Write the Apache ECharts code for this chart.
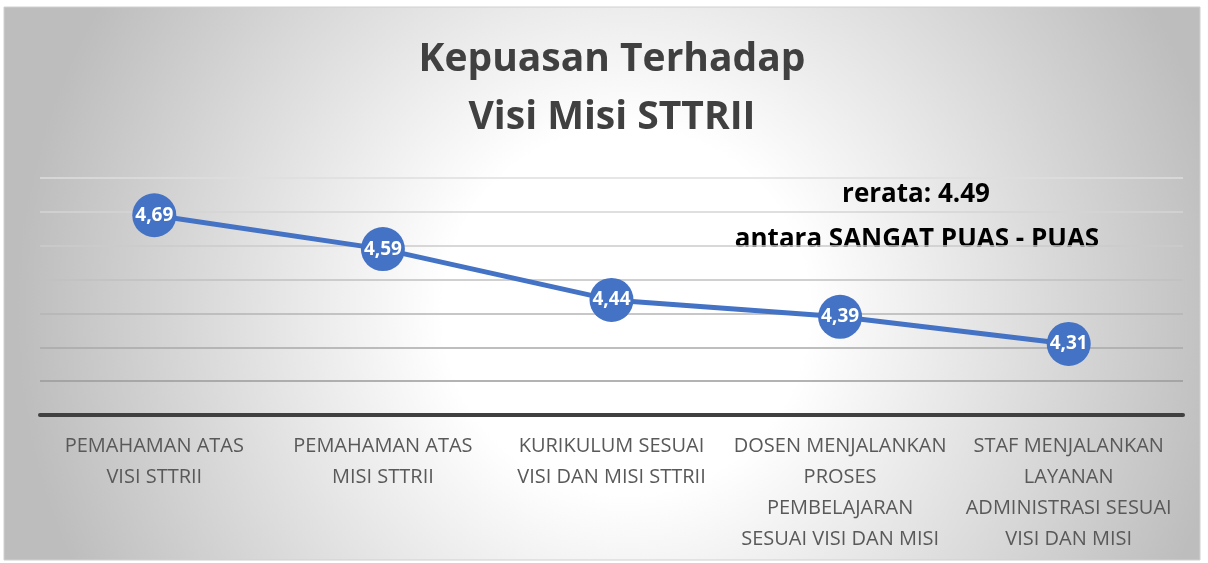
<!DOCTYPE html>
<html>
<head>
<meta charset="utf-8">
<script src="https://cdn.jsdelivr.net/npm/echarts@6/dist/echarts.min.js"></script>
<style>
  html, body { margin: 0; padding: 0; background: #fff; }
  #chart { width: 1208px; height: 563px; }
</style>
</head>
<body>
<div id="chart"></div>
<script>
var categories = [
  'PEMAHAMAN ATAS\nVISI STTRII',
  'PEMAHAMAN ATAS\nMISI STTRII',
  'KURIKULUM SESUAI\nVISI DAN MISI STTRII',
  'DOSEN MENJALANKAN\nPROSES\nPEMBELAJARAN\nSESUAI VISI DAN MISI',
  'STAF MENJALANKAN\nLAYANAN\nADMINISTRASI SESUAI\nVISI DAN MISI'
];
var scores = [4.69, 4.59, 4.44, 4.39, 4.31];
var gridColors = ['#404040', '#9a9a9a', '#a8a8a8', '#b4b4b4', '#c0c0c0', '#cbcbcb', '#d5d5d5', '#dedede'];

var font = '"Open Sans", "Noto Sans", sans-serif';

var myChart = echarts.init(document.getElementById('chart'));
var option = {
  animation: false,
  graphic: [
    {
      type: 'rect',
      z: -10,
      silent: true,
      shape: { x: 4, y: 7, width: 1196, height: 553 },
      style: {
        stroke: '#d0d0d0',
        lineWidth: 1,
        fill: {
          type: 'radial', x: 0.52, y: 0.55, r: 1.1,
          colorStops: [
            { offset: 0, color: '#ffffff' },
            { offset: 0.3, color: '#ffffff' },
            { offset: 1, color: '#bdbdbd' }
          ]
        }
      }
    },
    {
      type: 'text', x: 612, y: 60,
      style: {
        text: 'Kepuasan Terhadap',
        align: 'center', verticalAlign: 'middle',
        font: 'bold 39px ' + font,
        fill: '#404040'
      }
    },
    {
      type: 'text', x: 612, y: 118,
      style: {
        text: 'Visi Misi STTRII',
        align: 'center', verticalAlign: 'middle',
        font: 'bold 39px ' + font,
        fill: '#404040'
      }
    },
    {
      type: 'text', x: 916, y: 195,
      style: {
        text: 'rerata: 4.49',
        align: 'center', verticalAlign: 'middle',
        font: 'bold 26px ' + font,
        fill: '#000000'
      }
    },
    {
      type: 'text', x: 917, y: 240,
      style: {
        text: 'antara SANGAT PUAS - PUAS',
        align: 'center', verticalAlign: 'middle',
        font: 'bold 26px ' + font,
        fill: '#000000'
      }
    }
  ],
  grid: { left: 40, right: 25, top: 178, bottom: 148 },
  xAxis: {
    type: 'category',
    data: categories,
    axisLine: { show: true, lineStyle: { color: '#404040', width: 4 } },
    axisTick: { show: false },
    axisLabel: {
      interval: 0,
      margin: 16,
      color: '#595959',
      fontFamily: font,
      fontWeight: 'normal',
      fontSize: 20,
      lineHeight: 31
    }
  },
  yAxis: {
    type: 'value',
    min: 4.1,
    max: 4.8,
    interval: 0.1,
    axisLabel: { show: false },
    axisLine: { show: false },
    axisTick: { show: false },
    splitLine: { show: true, lineStyle: { color: gridColors, width: 1.5 } }
  },
  series: [{
    type: 'line',
    data: scores,
    symbol: 'circle',
    symbolSize: 44,
    itemStyle: { color: '#4472c4' },
    lineStyle: { color: '#4472c4', width: 5 },
    label: {
      show: true,
      position: 'inside',
      color: '#ffffff',
      fontFamily: font,
      fontWeight: 'bold',
      fontSize: 19,
      formatter: function (p) { return p.value.toFixed(2).replace('.', ','); }
    }
  }]
};
myChart.setOption(option);
</script>
</body>
</html>
